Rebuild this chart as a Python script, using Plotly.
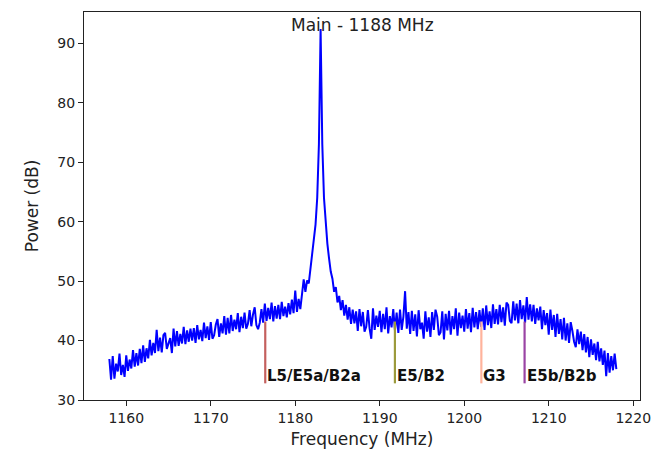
import numpy as np
import plotly.graph_objects as go

# Frequency grid (MHz): 1158.0 .. 1218.0 in 0.2 MHz steps
freq_start = 1158.0
freq_step = 0.2

power_db = [
    36.9, 33.4, 37.4, 33.6, 36.1, 34.8, 37.8, 34.2, 35.9, 33.9,
    37.5, 34.9, 36.8, 35.3, 38.4, 35.6, 37.9, 35.8, 38.6, 36.2,
    39.2, 36.4, 38.7, 37.0, 40.1, 37.5, 39.6, 37.9, 41.8, 38.2,
    40.5, 38.0, 40.9, 41.3, 38.6, 39.4, 40.4, 37.9, 42.0, 39.0,
    41.6, 39.1, 41.1, 39.5, 42.3, 39.4, 41.7, 39.8, 42.0, 40.0,
    42.1, 39.6, 42.6, 40.2, 41.8, 39.9, 43.0, 40.4, 42.4, 40.1,
    43.1, 40.3, 40.9, 42.7, 43.6, 40.6, 42.9, 41.2, 44.1, 41.0,
    43.8, 41.2, 44.3, 41.6, 43.5, 41.9, 44.6, 41.4, 44.0, 42.1,
    44.7, 42.0, 42.8, 45.1, 42.4, 44.4, 45.6, 42.6, 41.9, 43.0,
    45.3, 43.0, 46.2, 43.3, 45.5, 43.6, 46.4, 43.2, 45.8, 43.7,
    46.0, 43.6, 46.5, 44.1, 45.7, 43.9, 46.3, 44.4, 46.9, 44.6,
    48.4, 44.8, 47.0, 45.3, 48.1, 50.3, 48.2, 50.1, 49.6, 52.0,
    54.0, 56.5, 59.5, 64.0, 73.0, 92.4, 73.0, 64.0, 59.5, 56.3,
    53.8, 51.6, 50.4, 48.2, 49.0, 46.4, 47.5, 45.1, 46.8, 44.2,
    46.0, 43.5, 45.6, 42.8, 45.2, 42.9, 44.9, 41.6, 45.3, 42.4,
    44.8, 41.5, 42.3, 45.1, 42.0, 40.3, 45.4, 41.8, 44.2, 42.3,
    45.0, 41.4, 44.5, 41.9, 45.6, 41.2, 44.1, 42.2, 45.3, 41.7,
    44.7, 41.3, 45.2, 41.8, 44.0, 48.3, 42.0, 44.8, 41.1, 45.0,
    41.6, 44.4, 40.7, 45.1, 41.9, 43.0, 40.3, 44.9, 41.5, 43.9,
    40.6, 44.8, 41.8, 45.2, 44.0, 40.9, 41.4, 44.9, 40.2, 44.5,
    41.7, 45.0, 41.0, 44.1, 41.9, 45.4, 40.8, 44.7, 42.1, 44.2,
    41.5, 45.3, 42.0, 44.6, 41.4, 45.5, 42.2, 44.8, 41.9, 45.1,
    42.3, 45.4, 41.8, 45.9, 42.6, 44.9, 42.1, 46.1, 42.8, 45.3,
    42.7, 46.0, 43.1, 45.6, 42.5, 46.4, 46.0, 43.3, 42.9, 46.6,
    43.4, 46.2, 42.9, 46.8, 43.6, 45.9, 43.0, 47.3, 43.5, 46.1,
    43.2, 46.0, 42.8, 45.4, 43.4, 45.7, 41.9, 45.1, 42.6, 44.6,
    41.0, 45.2, 41.8, 44.3, 40.6, 44.5, 41.1, 43.6, 40.2, 43.8,
    40.0, 42.9, 39.6, 43.1, 41.6, 39.8, 38.9, 41.9, 39.4, 41.5,
    38.4, 41.1, 38.0, 40.6, 37.2, 40.2, 37.6, 39.5, 36.7, 39.8,
    36.5, 38.7, 35.9, 38.3, 34.0, 37.9, 34.6, 37.4, 35.0, 37.8,
    35.2,
]

band_names = ["L5/E5a/B2a", "E5/B2", "G3", "E5b/B2b"]
band_freqs = [1176.45, 1191.795, 1202.025, 1207.14]
band_colors = ["#c4605e", "#9c9a3c", "#ffb39c", "#9a44a4"]
marker_low = 32.8
marker_high = 43.2

x_ticks = [1160, 1170, 1180, 1190, 1200, 1210, 1220]
y_ticks = [30, 40, 50, 60, 70, 80, 90]

freqs = freq_start + freq_step * np.arange(len(power_db))

fig = go.Figure()
fig.add_trace(go.Scatter(x=freqs, y=power_db, mode="lines",
                         line=dict(color="#0000ff", width=2), showlegend=False,
                         hoverinfo="skip"))

for name, f, c in zip(band_names, band_freqs, band_colors):
    fig.add_trace(go.Scatter(x=[f, f], y=[marker_low, marker_high], mode="lines",
                             line=dict(color=c, width=2.2), showlegend=False,
                             hoverinfo="skip"))
    fig.add_annotation(x=f, y=marker_low, xref="x", yref="y", text="<b>%s</b>" % name,
                       showarrow=False, xanchor="left", yanchor="bottom",
                       xshift=0, yshift=-4,
                       font=dict(family="DejaVu Sans", size=15, color="#111111"))

fig.add_annotation(x=0.5, y=1, xref="paper", yref="paper", text="Main - 1188 MHz",
                   showarrow=False, xanchor="center", yanchor="top", yshift=-1,
                   font=dict(family="DejaVu Sans", size=17, color="#222222"))

axis_common = dict(showgrid=False, zeroline=False, showline=True, mirror=True,
                   linecolor="#222222", linewidth=1, ticks="outside", ticklen=5,
                   tickcolor="#222222", tickwidth=1, automargin=False,
                   tickfont=dict(family="DejaVu Sans", size=14, color="#222222"))

fig.update_xaxes(range=[1155, 1220.8], tickvals=x_ticks,
                 title=dict(text="Frequency (MHz)", standoff=8,
                            font=dict(family="DejaVu Sans", size=17, color="#222222")),
                 **axis_common)
fig.update_yaxes(range=[30, 95.25], tickvals=y_ticks,
                 title=dict(text="Power (dB)", standoff=14,
                            font=dict(family="DejaVu Sans", size=17, color="#222222")),
                 **axis_common)

fig.update_layout(width=654, height=455, margin=dict(l=84, r=14, t=12, b=55),
                  plot_bgcolor="white", paper_bgcolor="white")

# Remove the default page margin so the figure fills the window exactly.
fig.write_html("out.html", config={"displayModeBar": False},
               post_script="document.body.style.margin='0';document.body.style.overflow='hidden';")
